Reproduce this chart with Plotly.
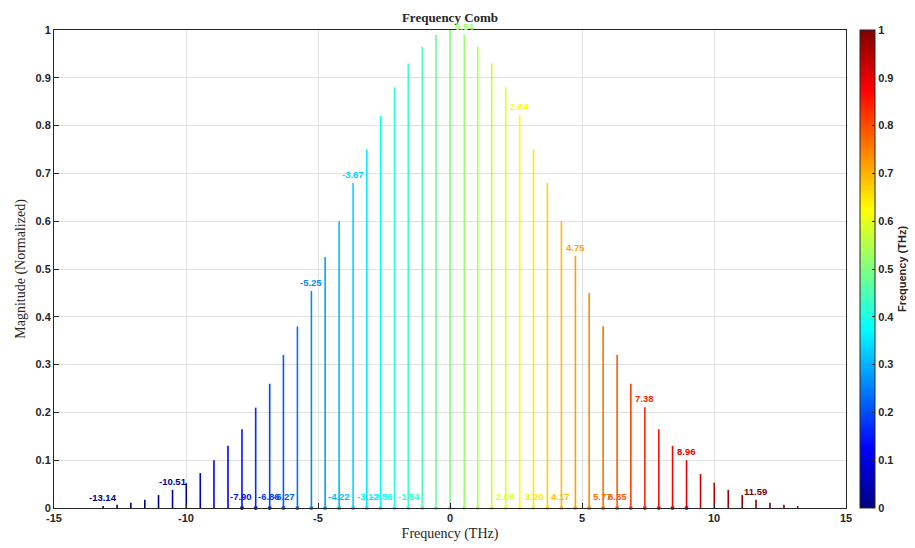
import plotly.graph_objects as go

# Comb line frequencies (THz) and normalized magnitudes
freqs = [-13.14, -12.61, -12.09, -11.56, -11.04, -10.51, -9.99, -9.46, -8.94, -8.41,
         -7.88, -7.36, -6.83, -6.31, -5.78, -5.25, -4.73, -4.20, -3.67, -3.15,
         -2.63, -2.10, -1.58, -1.05, -0.53, 0.00, 0.54, 1.05, 1.58, 2.11,
         2.64, 3.16, 3.69, 4.22, 4.75, 5.27, 5.80, 6.33, 6.85, 7.38,
         7.91, 8.43, 8.96, 9.49, 10.01, 10.54, 11.07, 11.59, 12.12, 12.65, 13.17]
mags = [0.004, 0.007, 0.011, 0.017, 0.027, 0.038, 0.052, 0.073, 0.100, 0.130,
        0.165, 0.210, 0.260, 0.320, 0.380, 0.454, 0.525, 0.600, 0.680, 0.750,
        0.820, 0.880, 0.930, 0.965, 0.990, 1.000, 0.990, 0.965, 0.930, 0.880,
        0.822, 0.750, 0.680, 0.600, 0.527, 0.450, 0.380, 0.320, 0.260, 0.211,
        0.165, 0.130, 0.100, 0.071, 0.053, 0.038, 0.027, 0.017, 0.011, 0.007, 0.004]

# Lines labelled at their tips
peak_labels = [-13.14, -10.51, -5.25, -3.67, 0.54, 2.64, 4.75, 7.38, 8.96, 11.59]
# Detected-line labels drawn along the baseline
base_labels = [-7.90, -6.86, -6.27, -4.22, -3.12, -2.56, -1.54, 2.09, 3.20, 4.17, 5.77, 6.35]
base_label_level = 0.025
# Range of lines carrying a baseline marker
marker_lo, marker_hi = -7.88, 8.96

# Frequency span mapped onto the full colormap (values beyond are clipped)
color_span = (-11.0, 11.0)

x_ticks = [-15, -10, -5, 0, 5, 10, 15]
y_ticks = [round(0.1 * i, 1) for i in range(11)]
cbar_ticks = [round(0.1 * i, 1) for i in range(11)]

JET = [(0.0, (0.0, 0.0, 0.5)), (0.125, (0.0, 0.0, 1.0)), (0.375, (0.0, 1.0, 1.0)),
       (0.625, (1.0, 1.0, 0.0)), (0.875, (1.0, 0.0, 0.0)), (1.0, (0.5, 0.0, 0.0))]


def jet(t):
    t = min(max(t, 0.0), 1.0)
    for (t0, c0), (t1, c1) in zip(JET[:-1], JET[1:]):
        if t <= t1:
            a = (t - t0) / (t1 - t0)
            r, g, b = (c0[i] + a * (c1[i] - c0[i]) for i in range(3))
            return f"rgb({round(r*255)},{round(g*255)},{round(b*255)})"
    return "rgb(128,0,0)"


def color_of(f):
    lo, hi = color_span
    return jet((f - lo) / (hi - lo))


fig = go.Figure()

for f, m in zip(freqs, mags):
    fig.add_trace(go.Scatter(x=[f, f], y=[0, m], mode="lines",
                             line=dict(color=color_of(f), width=1.6),
                             hoverinfo="skip", showlegend=False))

mk_x = [f for f in freqs if marker_lo - 1e-6 <= f <= marker_hi + 1e-6]
fig.add_trace(go.Scatter(x=mk_x, y=[0] * len(mk_x), mode="markers",
                         marker=dict(size=4, color=[color_of(f) for f in mk_x]),
                         cliponaxis=False, hoverinfo="skip", showlegend=False))

# colorbar carrier
fig.add_trace(go.Scatter(x=[None], y=[None], mode="markers", showlegend=False,
                         marker=dict(color=[0], cmin=0, cmax=1,
                                     colorscale=[[t, "rgb(%d,%d,%d)" % tuple(round(v * 255) for v in c)] for t, c in JET],
                                     showscale=True,
                                     colorbar=dict(
                                         x=(860 - 54) / 792, xanchor="left", xpad=0, y=0.5, yanchor="middle",
                                         len=1.0, lenmode="fraction", ypad=0, thickness=15,
                                         outlinecolor="#262626", outlinewidth=1,
                                         tickvals=cbar_ticks, ticktext=[f"<b>{v:g}</b>" for v in cbar_ticks],
                                         ticks="inside", ticklen=3, tickcolor="#262626",
                                         tickfont=dict(family="Arial, Liberation Sans", size=11, color="#262626"),
                                         title=dict(text="<b>Frequency (THz)</b>", side="right",
                                                    font=dict(family="Arial, Liberation Sans", size=11, color="#262626"))))))

font_lbl = "Arial, Liberation Sans"
for f in peak_labels:
    i = min(range(len(freqs)), key=lambda j: abs(freqs[j] - f))
    fig.add_annotation(x=f, y=mags[i], text=f"<b>{f:.2f}</b>", showarrow=False,
                       xanchor="center", yanchor="bottom", yshift=1,
                       font=dict(family=font_lbl, size=9.5, color=color_of(f)))
for f in base_labels:
    fig.add_annotation(x=f, y=base_label_level, text=f"<b>{f:.2f}</b>", showarrow=False,
                       xanchor="center", yanchor="middle",
                       font=dict(family=font_lbl, size=9.5, color=color_of(f)))

axis_common = dict(showgrid=True, gridcolor="#e3e3e3", gridwidth=1, zeroline=False,
                   showline=True, linecolor="#262626", linewidth=1, mirror=True,
                   ticks="inside", ticklen=5, tickcolor="#262626",
                   tickfont=dict(family="Arial, Liberation Sans", size=11, color="#262626"))

fig.update_layout(
    width=915, height=548,
    margin=dict(l=54, r=69, t=30, b=40, autoexpand=False),
    paper_bgcolor="white", plot_bgcolor="white",
    title=dict(text="<b>Frequency Comb</b>", x=(54 + 846) / 2 / 915, xanchor="center",
               y=1 - 17 / 548, yanchor="middle",
               font=dict(family="Liberation Serif, DejaVu Serif", size=13, color="#262626")),
    xaxis=dict(range=[-15, 15], tickvals=x_ticks, ticktext=[f"<b>{v}</b>" for v in x_ticks],
               title=dict(text="Frequency (THz)", standoff=4,
                          font=dict(family="Liberation Serif, DejaVu Serif", size=14, color="#262626")),
               **axis_common),
    yaxis=dict(range=[0, 1], tickvals=y_ticks, ticktext=[f"<b>{v:g}</b>" for v in y_ticks],
               title=dict(text="Magnitude (Normalized)", standoff=6,
                          font=dict(family="Liberation Serif, DejaVu Serif", size=14, color="#262626")),
               **axis_common),
)

fig.write_html("out.html")
